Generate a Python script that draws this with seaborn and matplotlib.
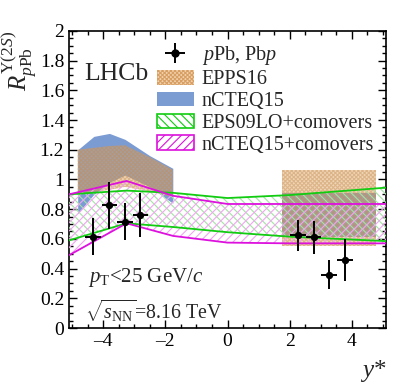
import numpy as np
import matplotlib
matplotlib.use("Agg")
import matplotlib.pyplot as plt
import seaborn as sns
from matplotlib.patches import Patch
from matplotlib.ticker import MultipleLocator, FormatStrFormatter

# LHCb data points
y_star = [-4.32, -3.80, -3.30, -2.80, 2.26, 2.77, 3.27, 3.78]
r_ppb = [0.615, 0.83, 0.715, 0.76, 0.625, 0.61, 0.36, 0.46]
r_err_up = [0.125, 0.155, 0.125, 0.15, 0.105, 0.11, 0.10, 0.14]
r_err_dn = [0.125, 0.16, 0.125, 0.145, 0.105, 0.11, 0.10, 0.14]
y_half = [0.25, 0.25, 0.25, 0.25, 0.25, 0.25, 0.25, 0.25]

# EPPS16 (backward band + forward box)
epps_bwd_x = [-4.82, -3.8, -3.3, -2.5, -1.76]
epps_bwd_hi = [1.20, 1.225, 1.23, 1.15, 1.065]
epps_bwd_lo = [0.90, 0.93, 0.95, 0.92, 0.88]
epps_fwd_x = [1.76, 4.79]
epps_fwd_hi = [1.065, 1.065]
epps_fwd_lo = [0.55, 0.55]

# nCTEQ15
ncteq_bwd_x = [-4.82, -4.3, -3.8, -3.3, -2.5, -1.76]
ncteq_bwd_hi = [1.20, 1.29, 1.31, 1.27, 1.16, 1.075]
ncteq_bwd_lo = [0.77, 0.90, 0.98, 1.03, 0.95, 0.84]
ncteq_fwd_x = [1.76, 4.79]
ncteq_fwd_hi = [0.91, 0.91]
ncteq_fwd_lo = [0.61, 0.61]

# comover calculations
comov_x = [-5.1, -3.25, -1.75, 0.0, 2.0, 5.1]
eps09_hi = [0.90, 0.925, 0.91, 0.875, 0.895, 0.945]
eps09_lo = [0.59, 0.705, 0.68, 0.645, 0.615, 0.585]
ncteqc_hi = [0.90, 0.99, 0.89, 0.835, 0.835, 0.835]
ncteqc_lo = [0.49, 0.705, 0.62, 0.575, 0.57, 0.57]

sns.set_theme(style="ticks")
plt.rcParams["font.family"] = ["Liberation Serif", "DejaVu Serif"]
plt.rcParams["mathtext.fontset"] = "custom"
plt.rcParams["mathtext.rm"] = "Liberation Serif"
plt.rcParams["mathtext.it"] = "Liberation Serif:italic"
plt.rcParams["hatch.linewidth"] = 0.8

BLUE = "#7b9bd3"
TAN = "#dba260"
GREEN = "#11cc11"
MAGENTA = "#dd11dd"

fig = plt.figure(figsize=(4.07, 3.91), dpi=100)
ax = fig.add_axes([0.1695, 0.161, 0.779, 0.76])

# nCTEQ15 bands
ax.fill_between(ncteq_bwd_x, ncteq_bwd_lo, ncteq_bwd_hi, color=BLUE, lw=0, zorder=1)
ax.fill_between(ncteq_fwd_x, ncteq_fwd_lo, ncteq_fwd_hi, color=BLUE, lw=0, zorder=1)

# EPPS16 bands, half transparent so nCTEQ15 shows through
for xs, lo, hi in [(epps_bwd_x, epps_bwd_lo, epps_bwd_hi), (epps_fwd_x, epps_fwd_lo, epps_fwd_hi)]:
    ax.fill_between(xs, lo, hi, facecolor=TAN, edgecolor="#c88c4e", hatch="x" * 8,
                    alpha=0.45, lw=0, zorder=2)

# comover bands
ax.fill_between(comov_x, eps09_lo, eps09_hi, facecolor="none", edgecolor="#a4e4a4",
                hatch="\\\\\\\\", lw=0, zorder=3)
ax.plot(comov_x, eps09_hi, color=GREEN, lw=1.3, zorder=4)
ax.plot(comov_x, eps09_lo, color=GREEN, lw=1.3, zorder=4)
ax.fill_between(comov_x, ncteqc_lo, ncteqc_hi, facecolor="none", edgecolor="#f2a4f2",
                hatch="////", lw=0, zorder=3)
ax.plot(comov_x, ncteqc_hi, color=MAGENTA, lw=1.3, zorder=4)
ax.plot(comov_x, ncteqc_lo, color=MAGENTA, lw=1.3, zorder=4)

# data
eb = ax.errorbar(y_star, r_ppb, yerr=[r_err_dn, r_err_up], xerr=y_half, fmt="o",
                 color="black", ms=0, elinewidth=1.4, capsize=0, zorder=5)
sns.scatterplot(x=y_star, y=r_ppb, ax=ax, color="black", s=28, edgecolor="black",
                linewidth=0, zorder=6)

ax.set_xlim(-5.1, 5.1)
ax.set_ylim(0, 2)
ax.xaxis.set_major_locator(MultipleLocator(2))
ax.xaxis.set_minor_locator(MultipleLocator(0.5))
ax.yaxis.set_major_locator(MultipleLocator(0.2))
ax.yaxis.set_minor_locator(MultipleLocator(0.05))
ax.yaxis.set_major_formatter(FormatStrFormatter("%g"))
ax.xaxis.set_major_formatter(plt.FuncFormatter(lambda v, p: f"{v:g}".replace("-", "\u2013")))
ax.tick_params(which="both", direction="in", top=True, right=True, labelsize=14,
               colors="black", width=1.0)
ax.tick_params(which="major", length=6)
ax.tick_params(which="minor", length=3)
for s in ax.spines.values():
    s.set_linewidth(1.2)
    s.set_color("black")

ax.set_ylabel(r"$R^{\Upsilon(2S)}_{p\mathrm{Pb}}$", fontsize=18, loc="top", labelpad=0)
ax.set_xlabel(r"$y$*", fontsize=18, loc="right", labelpad=6)

ax.text(0.047, 0.835, "LHCb", transform=ax.transAxes, fontsize=18.5)
ax.text(0.06, 0.155, r"$p_{\mathrm{T}}$<25 GeV/$c$", transform=ax.transAxes, fontsize=15)
ax.text(0.05, 0.03, r"$\sqrt{s_{\mathrm{NN}}}$=8.16 TeV", transform=ax.transAxes, fontsize=14.3)

# legend: marker-only dot drawn on top of the errorbar handle
dot = plt.Line2D([0], [0], color="black", marker="o", markersize=5, lw=0)
handles = [
    (eb, dot),
    Patch(facecolor="#f0d2ae", edgecolor="#d89e62", hatch="x" * 8, lw=0),
    Patch(facecolor=BLUE, lw=0),
    Patch(facecolor="white", edgecolor=GREEN, hatch="\\\\\\\\", lw=1.2),
    Patch(facecolor="white", edgecolor=MAGENTA, hatch="////", lw=1.2),
]
labels = [r"$p$Pb, Pb$p$", "EPPS16", "nCTEQ15", "EPS09LO+comovers", "nCTEQ15+comovers"]
ax.legend(handles, labels, loc="upper right", bbox_to_anchor=(1.0, 0.995), frameon=False,
          fontsize=14.5, handlelength=1.8, handleheight=0.75, labelspacing=0.12,
          handletextpad=0.4, borderaxespad=0.2)

fig.savefig("out.png", dpi=100)
